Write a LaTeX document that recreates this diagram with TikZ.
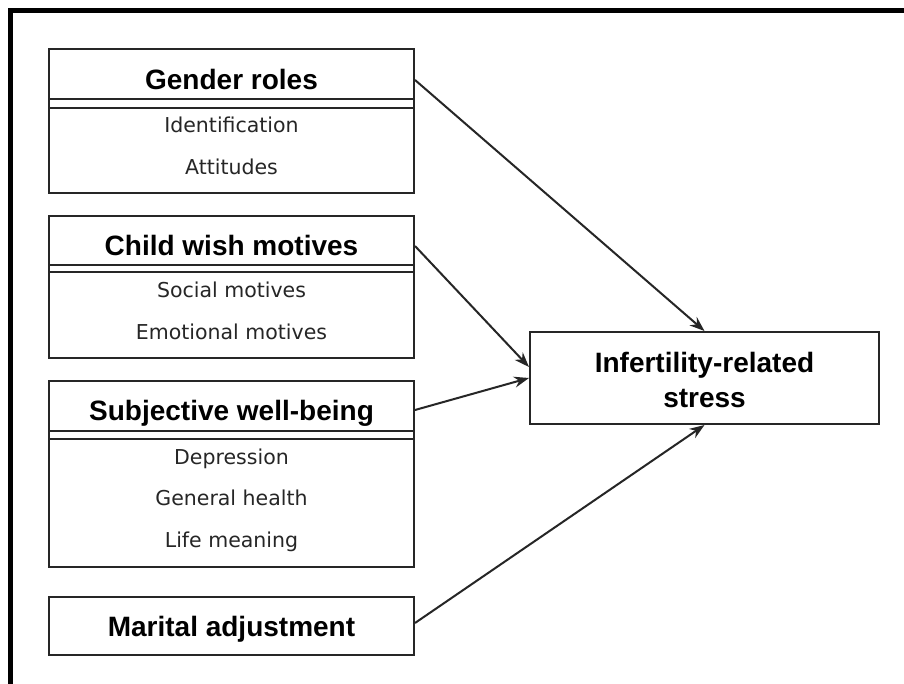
\documentclass[tikz,border=0pt]{standalone}
\usepackage{fontspec}
\setmainfont{DejaVu Sans}
\newfontfamily\hdfont{Liberation Sans}
\usetikzlibrary{arrows.meta}
\begin{document}
\begin{tikzpicture}[x=1pt,y=-1pt,
  box/.style={draw=black!85, line width=2pt, inner sep=0pt, minimum width=365pt},
  hd/.style={font=\hdfont\bfseries\fontsize{28}{34}\selectfont, anchor=base, inner sep=0pt},
  item/.style={font=\fontsize{20.5}{24}\selectfont, anchor=base, inner sep=0pt, text=black!85},
  sepline/.style={draw=black!85, line width=2pt},
  arr/.style={draw=black!85, line width=2pt, -{Stealth[length=15pt,width=11pt]}}]
\useasboundingbox (0,0) rectangle (904,684);
\fill[white] (0,0) rectangle (904,684);
\draw[line width=5pt] (10.5,684) |- (904,11);

% Gender roles
\node[box, minimum height=144pt] (gr) at (231.5,121) {};
\node[hd] (grh) at (231.5,90) {Gender roles};
\draw[sepline] (49,99) -- (414,99);
\draw[sepline] (49,108) -- (414,108);
\node[item] (gr1) at (231.5,133) {Identification};
\node[item] (gr2) at (231.5,174.5) {Attitudes};

% Child wish motives
\node[box, minimum height=142pt] (cw) at (231.5,287) {};
\node[hd] (cwh) at (231.5,256) {Child wish motives};
\draw[sepline] (49,265) -- (414,265);
\draw[sepline] (49,272) -- (414,272);
\node[item] (cw1) at (231.5,297.5) {Social motives};
\node[item] (cw2) at (231.5,339.5) {Emotional motives};

% Subjective well-being
\node[box, minimum height=186pt] (sw) at (231.5,474) {};
\node[hd] (swh) at (231.5,420) {Subjective well-being};
\draw[sepline] (49,431) -- (414,431);
\draw[sepline] (49,439) -- (414,439);
\node[item] (sw1) at (231.5,464.5) {Depression};
\node[item] (sw2) at (231.5,505.5) {General health};
\node[item] (sw3) at (231.5,547.5) {Life meaning};

% Marital adjustment
\node[box, minimum height=58pt] (ma) at (231.5,626) {};
\node[hd] (mah) at (231.5,636) {Marital adjustment};

% Infertility-related stress
\node[box, minimum width=349pt, minimum height=92pt] (st) at (704.5,378) {};
\node[hd] (st1) at (704.5,372) {Infertility-related};
\node[hd] (st2) at (704.5,407) {stress};

% Arrows
\draw[arr] (gr.east |- grh) -- (st.north);
\draw[arr] (cw.east |- cwh) -- ([yshift=11pt]st.west);
\draw[arr] ([yshift=64pt]sw.east) -- (st.west);
\draw[arr] ([yshift=3pt]ma.east) -- (st.south);
\end{tikzpicture}
\end{document}
